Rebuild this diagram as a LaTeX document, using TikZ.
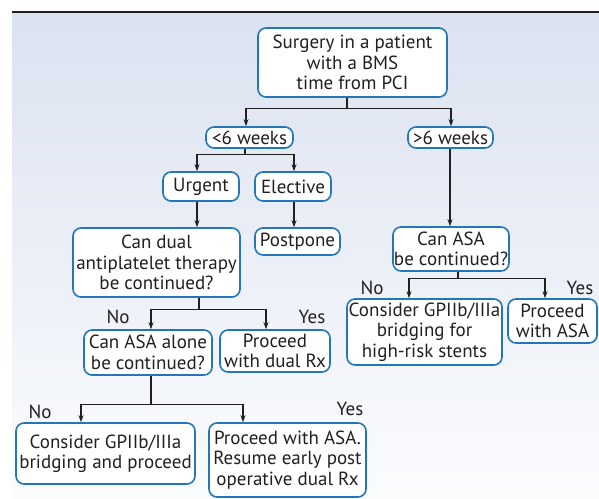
\documentclass[tikz,border=0pt]{standalone}
\usepackage{fontspec}
\setmainfont{PT Sans}
\usetikzlibrary{arrows.meta}
\definecolor{boxblue}{RGB}{36,118,186}
\definecolor{inkc}{RGB}{35,31,32}
\definecolor{bgtop}{RGB}{219,226,240}
\definecolor{bgbot}{RGB}{251,252,254}
\tikzset{
  box/.style={draw=boxblue, line width=1.6pt, fill=white, rounded corners=8pt,
    align=center, inner sep=1pt, text=inkc,
    font=\fontsize{19}{20.5}\selectfont},
  arr/.style={draw=inkc, line width=1.2pt, -{Stealth[length=7pt,width=5pt]}},
  lbl/.style={text=inkc, inner sep=0pt, font=\fontsize{19}{20.5}\selectfont}
}
\begin{document}
\begin{tikzpicture}[x=1pt,y=-1pt]
\useasboundingbox (0,0) rectangle (599,498);
\shade[top color=bgtop, bottom color=bgbot] (12,12) rectangle (599,498);
\draw[inkc, line width=1.3pt] (12,12) -- (599,12);

\node[box, minimum width=189pt, minimum height=69pt] (top) at (352.5,62.5)
  {Surgery in a patient\\with a BMS\\time from PCI};
\node[box, minimum width=87pt, minimum height=21pt] (lt) at (249.5,137.5) {<6 weeks};
\node[box, minimum width=85pt, minimum height=21pt] (gt) at (450.5,137.5) {>6 weeks};
\node[box, minimum width=76pt, minimum height=29pt] (urg) at (201,186.5) {Urgent};
\node[box, minimum width=76pt, minimum height=29pt] (elec) at (293,186.5) {Elective};
\node[box, minimum width=167pt, minimum height=69pt] (candual) at (156.5,262.5)
  {Can dual\\antiplatelet therapy\\be continued?};
\node[box, minimum width=85pt, minimum height=27pt] (post) at (297.5,241.5) {Postpone};
\node[box, minimum width=116pt, minimum height=44pt] (asaq) at (451,249)
  {Can ASA\\be continued?};
\node[box, minimum width=128pt, minimum height=45pt] (asaalone) at (148,352.5)
  {Can ASA alone\\be continued?};
\node[box, minimum width=110pt, minimum height=42pt] (dualrx) at (275,351)
  {Proceed\\with dual Rx};
\node[box, minimum width=179pt, minimum height=61pt] (gp1) at (105.5,453.5)
  {Consider GPIIb/IIIa\\bridging and proceed};
\node[box, minimum width=157pt, minimum height=74pt] (asaproc) at (287.5,460)
  {Proceed with ASA.\\Resume early post\\operative dual Rx};
\node[box, minimum width=155pt, minimum height=66pt] (gp2) at (424.5,332)
  {Consider GPIIb/IIIa\\bridging for\\high-risk stents};
\node[box, minimum width=89pt, minimum height=44pt] (asaok) at (552.5,321)
  {Proceed\\with ASA};

% labels
\node[lbl] (no1) at (118,317) {No};
\node[lbl] (yes1) at (312,317) {Yes};
\node[lbl] (no2) at (40,412) {No};
\node[lbl] (yes2) at (350,409) {Yes};
\node[lbl] (no3) at (372,288) {No};
\node[lbl] (yes3) at (580,288) {Yes};

% connectors
\draw[arr] ([xshift=-5.5pt]top.south) -- ++(0,11) -| ([xshift=-3.5pt]lt.north);
\draw[arr] ([xshift=-5.5pt]top.south) -- ++(0,11) -| ([xshift=0.5pt]gt.north);
\draw[arr] ([xshift=-4.5pt]lt.south) -- ++(0,6) -| ([xshift=-4pt]urg.north);
\draw[arr] ([xshift=-4.5pt]lt.south) -- ++(0,6) -| ([xshift=1pt]elec.north);
\draw[arr] ([xshift=-4pt]urg.south) -- ([xshift=-4pt]urg.south |- candual.north);
\draw[arr] ([xshift=1pt]elec.south) -- ([xshift=1pt]elec.south |- post.north);
\draw[arr] ([xshift=-0.5pt]gt.south) -- ([xshift=-0.5pt]gt.south |- asaq.north);
\draw[arr] ([xshift=42.5pt]candual.south) -- ++(0,12) -| ([xshift=3pt]asaalone.north);
\draw[arr] ([xshift=42.5pt]candual.south) -- ++(0,12) -| ([xshift=-9pt]dualrx.north);
\draw[arr] ([xshift=3pt]asaalone.south) -- ++(0,29) -| ([xshift=-24.5pt]gp1.north);
\draw[arr] ([xshift=3pt]asaalone.south) -- ++(0,29) -| ([xshift=-44.5pt]asaproc.north);
\draw[arr] ([xshift=7pt]asaq.south) -- ++(0,7) -| ([xshift=-15.5pt]gp2.north);
\draw[arr] ([xshift=7pt]asaq.south) -- ++(0,7) -| ([xshift=-7.5pt]asaok.north);
\end{tikzpicture}
\end{document}
